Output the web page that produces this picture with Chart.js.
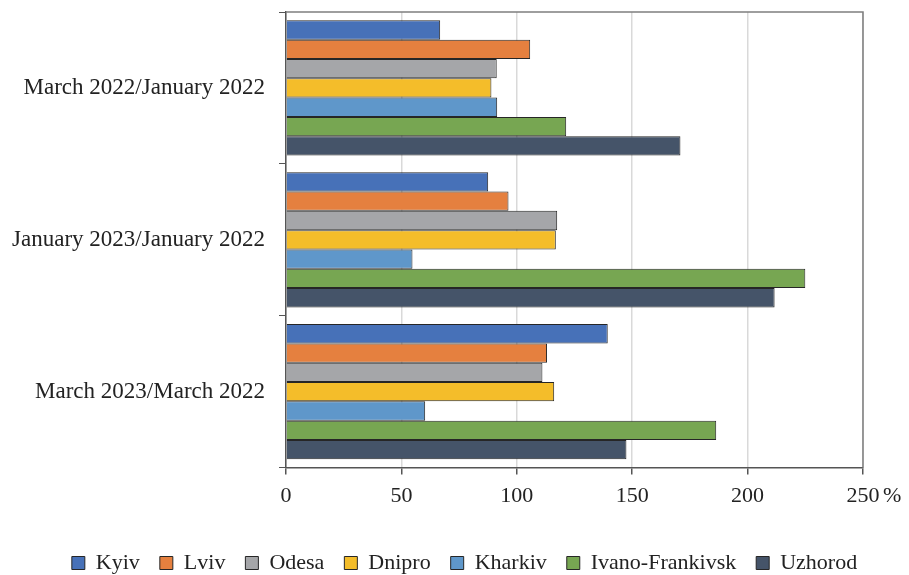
<!DOCTYPE html>
<html>
<head>
<meta charset="utf-8">
<script src="https://cdn.jsdelivr.net/npm/chart.js@4.4.1/dist/chart.umd.min.js"></script>
<style>
  html, body { margin: 0; padding: 0; background: #fff; }
  #wrap { width: 909px; height: 575px; }
</style>
</head>
<body>
<div id="wrap"><canvas id="chart" width="909" height="575"></canvas></div>
<script>
// periods compared
var periods = ['March 2022/January 2022', 'January 2023/January 2022', 'March 2023/March 2022'];

// index values, %, one entry per period
var kyiv    = [66.8, 87.6, 139.4];
var lviv    = [105.8, 96.4, 113.1];
var odesa   = [91.3, 117.5, 111.1];
var dnipro  = [89.0, 116.9, 116.2];
var kharkiv = [91.5, 54.8, 60.3];
var ivanoFrankivsk = [121.4, 225.0, 186.4];
var uzhorod = [170.9, 211.7, 147.5];

var xTicks = [0, 50, 100, 150, 200, 250];

var serif = "'Liberation Serif', 'DejaVu Serif', serif";

function series(label, data, color) {
    return {
        label: label,
        data: data,
        backgroundColor: color,
        borderColor: '#262626',
        borderWidth: 1,
        categoryPercentage: 0.89,
        barPercentage: 1.0
    };
}

// top/right frame of the plot plus the "%" after the last tick
var framePlugin = {
    id: 'frame',
    afterLayout: function(chart) {
        // legend sits a little right of the canvas centre
        chart.legend.left += 33;
        chart.legend.right += 33;
    },
    afterDraw: function(chart) {
        var ctx = chart.ctx;
        var a = chart.chartArea;
        var x = chart.scales.x;
        ctx.save();
        ctx.strokeStyle = '#7f7f7f';
        ctx.lineWidth = 1.5;
        ctx.beginPath();
        ctx.moveTo(a.left, a.top);
        ctx.lineTo(a.right, a.top);
        ctx.lineTo(a.right, a.bottom);
        ctx.stroke();
        ctx.fillStyle = '#222';
        ctx.font = '22px ' + serif;
        ctx.textBaseline = 'middle';
        ctx.textAlign = 'left';
        ctx.fillText('%', x.getPixelForValue(xTicks[xTicks.length - 1]) + 20, a.bottom + 29);
        ctx.restore();
    }
};

new Chart(document.getElementById('chart'), {
    type: 'bar',
    data: {
        labels: periods,
        datasets: [
            series('Kyiv', kyiv, '#4771b8'),
            series('Lviv', lviv, '#e5803f'),
            series('Odesa', odesa, '#a5a6a9'),
            series('Dnipro', dnipro, '#f4bd2a'),
            series('Kharkiv', kharkiv, '#5f97ca'),
            series('Ivano-Frankivsk', ivanoFrankivsk, '#77a652'),
            series('Uzhorod', uzhorod, '#455469')
        ]
    },
    options: {
        indexAxis: 'y',
        responsive: false,
        animation: false,
        layout: { padding: { top: 12, right: 46, left: 0, bottom: -9 } },
        plugins: {
            legend: {
                position: 'bottom',
                labels: {
                    boxWidth: 13,
                    boxHeight: 13,
                    padding: 20,
                    color: '#222',
                    font: { family: serif, size: 22 }
                }
            },
            tooltip: { enabled: false }
        },
        scales: {
            x: {
                min: 0,
                max: 250,
                afterBuildTicks: function(scale) {
                    scale.ticks = xTicks.map(function(v) { return { value: v }; });
                },
                afterFit: function(scale) { scale.height += 15; },
                grid: {
                    color: '#d9d9d9',
                    lineWidth: 1.5,
                    tickColor: '#555',
                    tickLength: 7
                },
                border: { color: '#555', width: 1.5 },
                ticks: {
                    color: '#222',
                    padding: 8,
                    font: { family: serif, size: 22 }
                }
            },
            y: {
                afterFit: function(scale) {
                    scale.width = 286;
                    scale.paddingTop = 0;
                    scale.paddingBottom = 0;
                },
                grid: {
                    drawOnChartArea: false,
                    tickColor: '#555',
                    tickLength: 7,
                    offset: true
                },
                border: { color: '#555', width: 1.5 },
                ticks: {
                    color: '#222',
                    padding: 14,
                    font: { family: serif, size: 23 }
                }
            }
        }
    },
    plugins: [framePlugin]
});
</script>
</body>
</html>
